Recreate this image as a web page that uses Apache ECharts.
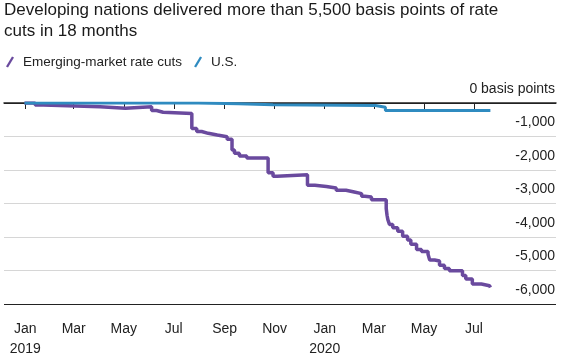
<!DOCTYPE html>
<html><head><meta charset="utf-8">
<script src="https://cdn.jsdelivr.net/npm/echarts@6/dist/echarts.min.js"></script>
<style>html,body{margin:0;padding:0;background:#fff}#c{width:573px;height:359px}</style>
</head><body><div id="c"></div>
<script>
const titleText = 'Developing nations delivered more than 5,500 basis points of rate\ncuts in 18 months';
const seriesNames = ['Emerging-market rate cuts', 'U.S.'];

const emDates = ['2018-12-31','2019-01-13','2019-01-23','2019-04-02','2019-05-03','2019-06-04','2019-06-10','2019-06-18',
  '2019-07-23','2019-07-29','2019-08-04','2019-08-12','2019-08-23','2019-09-04','2019-09-10','2019-09-13','2019-09-19',
  '2019-09-28','2019-10-24','2019-10-30','2019-11-04','2019-12-11','2019-12-20','2020-01-03','2020-01-15','2020-01-27',
  '2020-02-06','2020-02-15','2020-02-19','2020-02-27','2020-03-16','2020-03-17','2020-03-18','2020-03-20','2020-03-24',
  '2020-03-30','2020-04-05','2020-04-11','2020-04-15','2020-04-22','2020-04-28','2020-05-06','2020-05-08','2020-05-14',
  '2020-05-20','2020-05-26','2020-06-01','2020-06-17','2020-06-21','2020-06-29','2020-07-10','2020-07-20','2020-07-21'];
const emValues = [0,-60,-115,-160,-115,-225,-275,-310,
  -760,-850,-905,-955,-1005,-1085,-1400,-1500,-1580,
  -1645,-2080,-2190,-2145,-2455,-2490,-2535,-2605,-2655,
  -2705,-2785,-2805,-2885,-3150,-3350,-3480,-3625,-3725,
  -3825,-3975,-4090,-4220,-4370,-4435,-4515,-4685,-4715,
  -4845,-4940,-5010,-5150,-5255,-5405,-5455,-5505,-5505];

const usDates = ['2018-12-31','2019-07-31','2019-09-18','2019-10-30','2020-03-03','2020-03-15','2020-07-21'];
const usValues = [0,-25,-50,-75,-125,-225,-225];

const xTickDates = ['2019-01-01','2019-03-01','2019-05-01','2019-07-01','2019-09-01','2019-11-01',
  '2020-01-01','2020-03-01','2020-05-01','2020-07-01'];
const xTickLabels = ['Jan\n2019','Mar','May','Jul','Sep','Nov','Jan\n2020','Mar','May','Jul'];
const xRange = ['2018-12-06','2020-10-09'];
const yRange = [-6000, 0];
const yStep = 1000;

function toTime(s){ const p = s.split('-').map(Number); return Date.UTC(p[0], p[1]-1, p[2]); }
function fmtNum(v){ return v === 0 ? '0 basis points' : v.toLocaleString('en-US'); }

const FONT = "'Liberation Sans', Arial, Helvetica, sans-serif";
const PURPLE = '#6a4a9e';
const BLUE = '#2f8bc0';
const GRID = '#d6d6d6';
const tickTimes = xTickDates.map(toTime);

const chart = echarts.init(document.getElementById('c'), null, {renderer: 'canvas'});
chart.setOption({
  animation: false,
  backgroundColor: '#fff',
  textStyle: {fontFamily: FONT},
  title: {
    text: titleText, left: 4, top: 0, padding: 0,
    textStyle: {fontFamily: FONT, fontSize: 17, fontWeight: 'normal', color: '#1a1a1a', lineHeight: 21}
  },
  legend: {
    left: 1, top: 50, itemWidth: 8, itemHeight: 11, itemGap: 12,
    data: [
      {name: seriesNames[0], icon: 'path://M0,10 L6,0 L8,1 L2,11 Z'},
      {name: seriesNames[1], icon: 'path://M0,10 L6,0 L8,1 L2,11 Z'}
    ],
    textStyle: {fontFamily: FONT, fontSize: 13.5, color: '#222', padding: [0,0,0,4]}
  },
  grid: {left: 4, right: 17, top: 103, bottom: 54, containLabel: false},
  xAxis: {
    type: 'value',
    min: toTime(xRange[0]), max: toTime(xRange[1]),
    axisLine: {show: true, lineStyle: {color: '#222', width: 1.5}},
    axisTick: {show: true, customValues: tickTimes, length: 6, lineStyle: {color: '#222', width: 1}},
    axisLabel: {
      customValues: tickTimes, margin: 15, fontFamily: FONT, fontSize: 14, color: '#222', lineHeight: 20,
      formatter: function(v){ const i = tickTimes.indexOf(v); return i >= 0 ? xTickLabels[i] : ''; }
    },
    splitLine: {show: false}
  },
  yAxis: {
    type: 'value', position: 'right',
    min: yRange[0], max: yRange[1], interval: yStep,
    axisLine: {show: false}, axisTick: {show: false},
    axisLabel: {
      inside: true, margin: 1, align: 'right', verticalAlign: 'bottom', padding: [0,0,7,0],
      fontFamily: FONT, fontSize: 14, color: '#222', formatter: fmtNum
    },
    splitLine: {show: true, lineStyle: {color: ['#222', GRID, GRID, GRID, GRID, GRID, '#222'], width: 1}}
  },
  series: [
    {
      name: seriesNames[0], type: 'line', step: 'end', showSymbol: false, symbol: 'none', z: 2,
      color: PURPLE, lineStyle: {color: PURPLE, width: 3.5},
      data: emDates.map((d, i) => [toTime(d), emValues[i]])
    },
    {
      name: seriesNames[1], type: 'line', step: 'end', showSymbol: false, symbol: 'none', z: 3,
      color: BLUE, lineStyle: {color: BLUE, width: 3},
      data: usDates.map((d, i) => [toTime(d), usValues[i]])
    }
  ]
});
</script></body></html>
